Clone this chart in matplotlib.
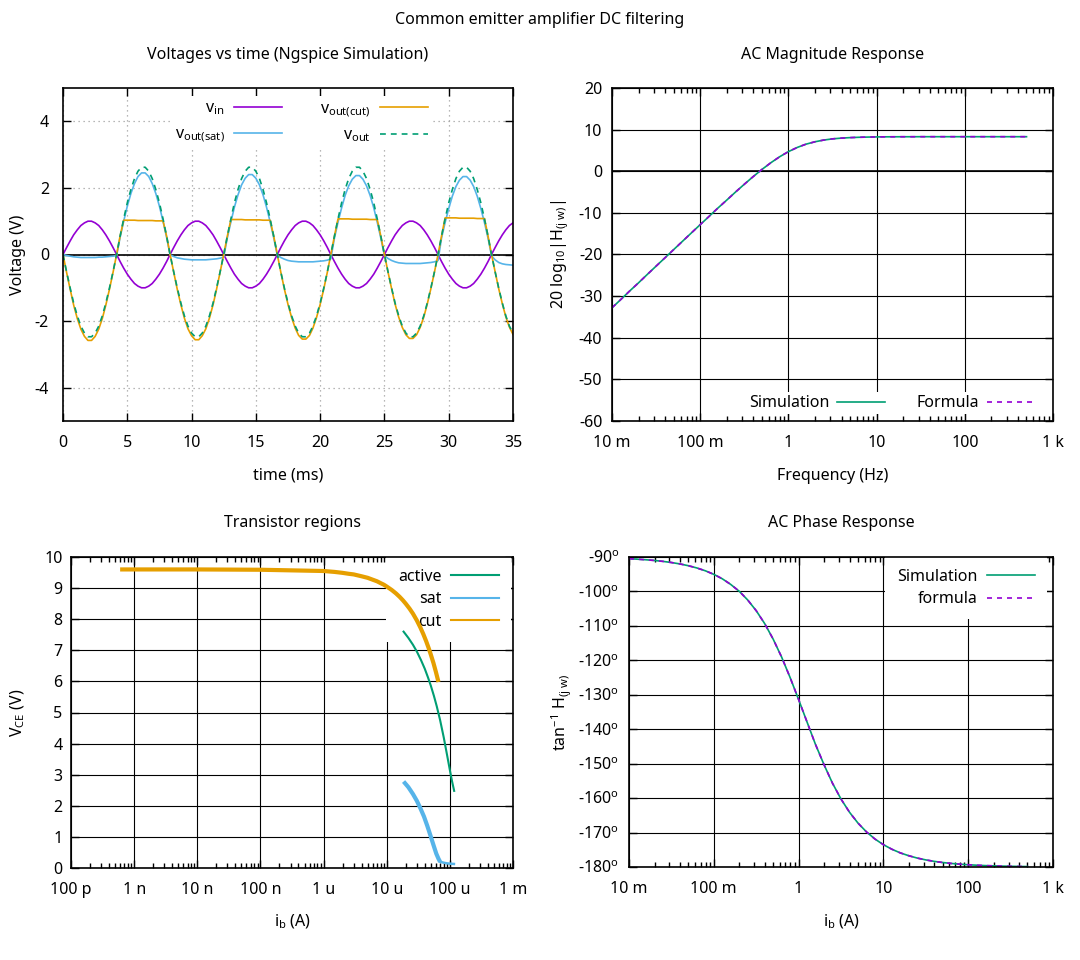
import matplotlib
matplotlib.use('Agg')
import matplotlib.pyplot as plt
from matplotlib.ticker import FixedLocator, LogLocator, NullFormatter
from matplotlib.lines import Line2D

plt.rcParams['font.family'] = ['Noto Sans', 'DejaVu Sans']
plt.rcParams['font.size'] = 11.5
plt.rcParams['axes.unicode_minus'] = False
plt.rcParams['mathtext.fontset'] = 'custom'
plt.rcParams['mathtext.rm'] = 'Noto Sans'
plt.rcParams['mathtext.it'] = 'Noto Sans:italic'
plt.rcParams['mathtext.bf'] = 'Noto Sans:bold'

FS = 11.5

# ---------------- data: transient (ms, V) ----------------
TIME_MS = [
    0, 0.28, 0.56, 0.83, 1.11, 1.39, 1.67, 1.94, 2.22,
    2.5, 2.78, 3.06, 3.33, 3.61, 3.89, 4.17, 4.44, 4.72,
    5.0, 5.28, 5.56, 5.83, 6.11, 6.39, 6.67, 6.94, 7.22,
    7.5, 7.78, 8.06, 8.33, 8.61, 8.89, 9.17, 9.44, 9.72,
    10.0, 10.28, 10.56, 10.83, 11.11, 11.39, 11.67, 11.94, 12.22,
    12.5, 12.78, 13.06, 13.33, 13.61, 13.89, 14.17, 14.44, 14.72,
    15.0, 15.28, 15.56, 15.83, 16.11, 16.39, 16.67, 16.94, 17.22,
    17.5, 17.78, 18.06, 18.33, 18.61, 18.89, 19.17, 19.44, 19.72,
    20.0, 20.28, 20.56, 20.83, 21.11, 21.39, 21.67, 21.94, 22.22,
    22.5, 22.78, 23.06, 23.33, 23.61, 23.89, 24.17, 24.44, 24.72,
    25.0, 25.28, 25.56, 25.83, 26.11, 26.39, 26.67, 26.94, 27.22,
    27.5, 27.78, 28.06, 28.33, 28.61, 28.89, 29.17, 29.44, 29.72,
    30.0, 30.28, 30.56, 30.83, 31.11, 31.39, 31.67, 31.94, 32.22,
    32.5, 32.78, 33.06, 33.33, 33.61, 33.89, 34.17, 34.44, 34.72,
    35.0,
]

V_IN = [
    0, 0.21, 0.41, 0.59, 0.74, 0.87, 0.95, 1.0, 1.0, 0.95, 0.87, 0.74, 0.59, 0.41, 0.21,
    0, -0.21, -0.41, -0.59, -0.74, -0.87, -0.95, -1.0, -1.0, -0.95, -0.87, -0.74, -0.59, -0.41, -0.21,
    0, 0.21, 0.41, 0.59, 0.74, 0.87, 0.95, 1.0, 1.0, 0.95, 0.87, 0.74, 0.59, 0.41, 0.21,
    0, -0.21, -0.41, -0.59, -0.74, -0.87, -0.95, -1.0, -1.0, -0.95, -0.87, -0.74, -0.59, -0.41, -0.21,
    0, 0.21, 0.41, 0.59, 0.74, 0.87, 0.95, 1.0, 1.0, 0.95, 0.87, 0.74, 0.59, 0.41, 0.21,
    0, -0.21, -0.41, -0.59, -0.74, -0.87, -0.95, -1.0, -1.0, -0.95, -0.87, -0.74, -0.59, -0.41, -0.21,
    0, 0.21, 0.41, 0.59, 0.74, 0.87, 0.95, 1.0, 1.0, 0.95, 0.87, 0.74, 0.59, 0.41, 0.21,
    0, -0.21, -0.41, -0.59, -0.74, -0.87, -0.95, -1.0, -1.0, -0.95, -0.87, -0.74, -0.59, -0.41, -0.21,
    0, 0.21, 0.41, 0.59, 0.74, 0.87, 0.95,
]

V_OUT = [
    0, -0.52, -1.01, -1.46, -1.84, -2.15, -2.36, -2.47, -2.47, -2.36, -2.15, -1.84, -1.46, -1.01, -0.52,
    0, 0.55, 1.07, 1.55, 1.95, 2.28, 2.50, 2.62, 2.62, 2.50, 2.28, 1.95, 1.55, 1.07, 0.55,
    0, -0.52, -1.01, -1.46, -1.84, -2.15, -2.36, -2.47, -2.47, -2.36, -2.15, -1.84, -1.46, -1.01, -0.52,
    0, 0.55, 1.07, 1.55, 1.95, 2.28, 2.50, 2.62, 2.62, 2.50, 2.28, 1.95, 1.55, 1.07, 0.55,
    0, -0.52, -1.01, -1.46, -1.84, -2.15, -2.36, -2.47, -2.47, -2.36, -2.15, -1.84, -1.46, -1.01, -0.52,
    0, 0.55, 1.07, 1.55, 1.95, 2.28, 2.50, 2.62, 2.62, 2.50, 2.28, 1.95, 1.55, 1.07, 0.55,
    0, -0.52, -1.01, -1.46, -1.84, -2.15, -2.36, -2.47, -2.47, -2.36, -2.15, -1.84, -1.46, -1.01, -0.52,
    0, 0.55, 1.07, 1.55, 1.95, 2.28, 2.50, 2.62, 2.62, 2.50, 2.28, 1.95, 1.55, 1.07, 0.55,
    0, -0.52, -1.01, -1.46, -1.84, -2.15, -2.36,
]

V_OUT_CUT = [
    0, -0.54, -1.05, -1.52, -1.92, -2.24, -2.46, -2.58, -2.58, -2.46, -2.24, -1.92, -1.52, -1.05, -0.54,
    0, 0.55, 1.03, 1.03, 1.03, 1.03, 1.02, 1.02, 1.02, 1.02, 1.02, 1.01, 1.01, 1.01, 0.55,
    0, -0.53, -1.05, -1.51, -1.91, -2.23, -2.44, -2.56, -2.56, -2.44, -2.23, -1.91, -1.51, -1.05, -0.53,
    0, 0.55, 1.05, 1.05, 1.05, 1.05, 1.04, 1.04, 1.04, 1.04, 1.04, 1.03, 1.03, 1.03, 0.55,
    0, -0.53, -1.04, -1.50, -1.89, -2.21, -2.43, -2.54, -2.54, -2.43, -2.21, -1.89, -1.50, -1.04, -0.53,
    0, 0.55, 1.07, 1.07, 1.07, 1.07, 1.06, 1.06, 1.06, 1.06, 1.06, 1.05, 1.05, 1.05, 0.55,
    0, -0.53, -1.03, -1.49, -1.88, -2.19, -2.41, -2.52, -2.52, -2.41, -2.19, -1.88, -1.49, -1.03, -0.53,
    0, 0.55, 1.10, 1.10, 1.10, 1.10, 1.09, 1.09, 1.09, 1.09, 1.09, 1.08, 1.08, 1.08, 0.55,
    0, -0.52, -1.03, -1.48, -1.87, -2.18, -2.40,
]

V_OUT_SAT = [
    0, -0.03, -0.05, -0.07, -0.08, -0.09, -0.09, -0.09, -0.09, -0.09, -0.08, -0.08, -0.07, -0.06, -0.05,
    -0.03, 0.51, 1.00, 1.45, 1.83, 2.13, 2.34, 2.45, 2.45, 2.34, 2.13, 1.83, 1.45, 1.00, 0.51,
    -0.01, -0.06, -0.10, -0.12, -0.14, -0.15, -0.16, -0.16, -0.16, -0.16, -0.16, -0.15, -0.14, -0.13, -0.11,
    -0.08, 0.50, 0.98, 1.42, 1.79, 2.09, 2.29, 2.40, 2.40, 2.29, 2.09, 1.79, 1.42, 0.98, 0.50,
    -0.02, -0.09, -0.14, -0.18, -0.20, -0.21, -0.22, -0.22, -0.22, -0.22, -0.22, -0.21, -0.20, -0.19, -0.17,
    -0.13, 0.49, 0.97, 1.40, 1.77, 2.06, 2.26, 2.37, 2.37, 2.26, 2.06, 1.77, 1.40, 0.97, 0.49,
    -0.03, -0.12, -0.18, -0.22, -0.25, -0.26, -0.27, -0.27, -0.27, -0.27, -0.27, -0.26, -0.25, -0.24, -0.22,
    -0.18, 0.49, 0.96, 1.38, 1.75, 2.04, 2.23, 2.34, 2.34, 2.23, 2.04, 1.75, 1.38, 0.96, 0.49,
    -0.04, -0.16, -0.24, -0.28, -0.30, -0.31, -0.32,
]

# ---------------- data: AC response ----------------
FREQ_HZ = [
    0.01, 0.0126, 0.0158, 0.02, 0.0251, 0.0316, 0.0398, 0.0501, 0.0631, 0.0794,
    0.1, 0.126, 0.158, 0.2, 0.251, 0.316, 0.398, 0.501, 0.631, 0.794,
    1.0, 1.26, 1.58, 2.0, 2.51, 3.16, 3.98, 5.01, 6.31, 7.94,
    10.0, 12.6, 15.8, 20.0, 25.1, 31.6, 39.8, 50.1, 63.1, 79.4,
    100.0, 126.0, 158.0, 200.0, 251.0, 316.0, 398.0, 501.0,
]

MAG_DB = [
    -32.80, -30.80, -28.80, -26.80, -24.80, -22.80, -20.81, -18.81, -16.81, -14.82,
    -12.83, -10.85, -8.88, -6.93, -5.01, -3.13, -1.30, 0.43, 2.03, 3.47,
    4.71, 5.72, 6.50, 7.08, 7.49, 7.78, 7.96, 8.08, 8.16, 8.21,
    8.25, 8.27, 8.28, 8.29, 8.29, 8.30, 8.30, 8.30, 8.30, 8.30,
    8.30, 8.30, 8.30, 8.30, 8.30, 8.30, 8.30, 8.30,
]

PHASE_DEG = [
    -90.50, -90.64, -90.80, -91.01, -91.27, -91.60, -92.01, -92.53, -93.18, -94.00,
    -95.03, -96.33, -97.95, -99.97, -102.48, -105.57, -109.33, -113.83, -119.07, -124.99,
    -131.38, -137.96, -144.38, -150.37, -155.68, -160.25, -164.09, -167.24, -169.80, -171.87,
    -173.52, -174.85, -175.90, -176.74, -177.41, -177.94, -178.37, -178.70, -178.97, -179.18,
    -179.35, -179.48, -179.59, -179.67, -179.74, -179.79, -179.84, -179.87,
]

# ---------------- data: transistor regions (A, V) ----------------
IB_CUT = [6e-10, 1e-9, 1e-8, 1e-7, 1e-6, 1.5e-6, 2e-6, 2.5e-6, 3e-6, 4e-6, 5e-6, 6e-6, 7e-6, 8e-6,
          9e-6, 1e-5, 1.2e-5, 1.4e-5, 1.6e-5, 1.8e-5, 2e-5, 2.3e-5, 2.6e-5, 3e-5, 3.4e-5, 3.8e-5,
          4.2e-5, 4.6e-5, 5e-5, 5.5e-5, 6e-5, 6.6e-5]
VCE_CUT = [9.60, 9.60, 9.60, 9.59, 9.55, 9.52, 9.49, 9.46, 9.44, 9.38, 9.33, 9.27, 9.22, 9.16,
           9.11, 9.05, 8.94, 8.83, 8.72, 8.61, 8.50, 8.34, 8.18, 7.96, 7.74, 7.52,
           7.30, 7.08, 6.86, 6.59, 6.31, 5.98]

IB_ACTIVE = [1.85e-5, 2.2e-5, 2.6e-5, 3e-5, 3.5e-5, 4e-5, 4.5e-5, 5e-5, 5.6e-5, 6.2e-5, 7e-5, 8e-5,
             9e-5, 1e-4, 1.08e-4, 1.17e-4]
VCE_ACTIVE = [7.60, 7.40, 7.18, 6.96, 6.68, 6.41, 6.13, 5.86, 5.53, 5.20, 4.76, 4.20,
              3.65, 3.15, 2.80, 2.48]

# steep part of the saturation curve, then its low tail
IB_SAT = [1.85e-5, 2.2e-5, 2.6e-5, 3e-5, 3.4e-5, 3.9e-5, 4.4e-5, 4.9e-5, 5.5e-5, 6.1e-5, 6.6e-5, 7e-5]
VCE_SAT = [2.78, 2.60, 2.38, 2.16, 1.93, 1.65, 1.35, 1.06, 0.74, 0.46, 0.30, 0.20]
IB_SAT_TAIL = [7e-5, 8e-5, 9e-5, 1e-4, 1.16e-4]
VCE_SAT_TAIL = [0.20, 0.17, 0.15, 0.14, 0.13]

# ---------------- tick labels ----------------
FREQ_TICKS = [0.01, 0.1, 1, 10, 100, 1000]
FREQ_TICK_LABELS = ['10 m', '100 m', '1', '10', '100', '1 k']
IB_TICKS = [1e-10, 1e-9, 1e-8, 1e-7, 1e-6, 1e-5, 1e-4, 1e-3]
IB_TICK_LABELS = ['100 p', '1 n', '10 n', '100 n', '1 u', '10 u', '100 u', '1 m']
PHASE_TICKS = [-180, -170, -160, -150, -140, -130, -120, -110, -100, -90]
PHASE_TICK_LABELS = [f'{v}' + r'$^{\mathrm{o}}$' for v in PHASE_TICKS]

PURPLE = '#9400d3'
GREEN = '#009e73'
BLUE = '#56b4e9'
ORANGE = '#e69f00'

W, H = 1080, 960
fig = plt.figure(figsize=(W / 100, H / 100), dpi=100)


def add_ax(left, top, right, bottom):
    return fig.add_axes([left / W, 1 - bottom / H, (right - left) / W, (bottom - top) / H])


def style(ax, ypad, xpad=10.0):
    for s in ax.spines.values():
        s.set_linewidth(1.2)
    ax.tick_params(which='both', direction='in', top=True, right=True, width=1.0, labelsize=FS)
    ax.tick_params(which='major', length=6)
    ax.tick_params(which='minor', length=3.5)
    ax.tick_params(axis='x', which='major', pad=xpad)
    ax.tick_params(axis='y', which='major', pad=ypad)


def log_x(ax, ticks, labels):
    ax.set_xscale('log')
    ax.xaxis.set_major_locator(FixedLocator(ticks))
    ax.set_xticklabels(labels)
    ax.xaxis.set_minor_locator(LogLocator(base=10, subs=range(2, 10), numticks=30))
    ax.xaxis.set_minor_formatter(NullFormatter())


def legend_box(leg):
    leg.get_frame().set_facecolor('white')
    leg.get_frame().set_linewidth(0)
    leg.set_zorder(1.8)


fig.text(0.5, 1 - 20 / H, 'Common emitter amplifier DC filtering', ha='center', va='center', fontsize=FS)

# ---------------- top left: transient ----------------
ax1 = add_ax(63, 88, 513, 421)
style(ax1, ypad=10)
ax1.grid(True, color='#a0a0a0', linestyle=(0, (1, 3)), linewidth=0.9)
ax1.axhline(0, color='black', lw=1.2, zorder=1.9)
ax1.plot(TIME_MS, V_IN, color=PURPLE, lw=1.2, label=r'v$_{\mathrm{in}}$')
ax1.plot(TIME_MS, V_OUT_SAT, color=BLUE, lw=1.2, label=r'v$_{\mathrm{out(sat)}}$')
ax1.plot(TIME_MS, V_OUT_CUT, color=ORANGE, lw=1.2, label=r'v$_{\mathrm{out(cut)}}$')
ax1.plot(TIME_MS, V_OUT, color=GREEN, lw=1.2, dashes=(3.5, 3), label=r'v$_{\mathrm{out}}$')
ax1.set_xlim(0, 35)
ax1.set_ylim(-5, 5)
ax1.set_xticks([0, 5, 10, 15, 20, 25, 30, 35])
ax1.set_yticks([-4, -2, 0, 2, 4])
ax1.set_title('Voltages vs time (Ngspice Simulation)', y=1 + 33 / 333, va='center', pad=0, fontsize=FS)
ax1.set_xlabel('time (ms)', va='center')
ax1.xaxis.set_label_coords(0.5, -55 / 333)
ax1.set_ylabel('Voltage (V)', va='center')
ax1.yaxis.set_label_coords(-45 / 450, 0.5)
leg1 = ax1.legend(ncol=2, loc='upper center', bbox_to_anchor=(0.53, 1.0), markerfirst=False,
                  handlelength=3.0, columnspacing=2.4, labelspacing=0.55, borderpad=0.3,
                  handletextpad=0.6, fancybox=False, framealpha=1, fontsize=FS)
legend_box(leg1)

# ---------------- top right: magnitude ----------------
ax2 = add_ax(612, 88, 1053, 421)
style(ax2, ypad=7)
ax2.grid(True, which='major', color='black', lw=0.8)
ax2.axhline(0, color='black', lw=1.2, zorder=1.9)
ax2.plot(FREQ_HZ, MAG_DB, color=GREEN, lw=1.2, label='Simulation')
ax2.plot(FREQ_HZ, MAG_DB, color=PURPLE, lw=1.2, dashes=(3, 3), label='Formula')
log_x(ax2, FREQ_TICKS, FREQ_TICK_LABELS)
ax2.set_xlim(0.01, 1000)
ax2.set_ylim(-60, 20)
ax2.set_yticks(list(range(-60, 21, 10)))
ax2.set_title('AC Magnitude Response', y=1 + 33 / 333, va='center', pad=0, fontsize=FS)
ax2.set_xlabel('Frequency (Hz)', va='center')
ax2.xaxis.set_label_coords(0.5, -55 / 333)
ax2.set_ylabel(r'20 log$_{\mathrm{10}}$|H$_{\mathrm{(j\ w)}}$|', va='center')
ax2.yaxis.set_label_coords(-52 / 441, 0.5)
leg2 = ax2.legend(ncol=2, loc='lower right', bbox_to_anchor=(0.967, 0.02), markerfirst=False,
                  handlelength=3.0, columnspacing=2.0, borderpad=0.2, borderaxespad=0,
                  handletextpad=0.5, fancybox=False, framealpha=1, fontsize=FS)
legend_box(leg2)

# ---------------- bottom left: transistor regions ----------------
ax3 = add_ax(71, 557, 513, 868)
style(ax3, ypad=6)
ax3.grid(True, which='major', color='black', lw=0.8)
ax3.plot(IB_ACTIVE, VCE_ACTIVE, color=GREEN, lw=1.5)
ax3.plot(IB_SAT, VCE_SAT, color=BLUE, lw=3.0, solid_capstyle='butt')
ax3.plot(IB_SAT_TAIL, VCE_SAT_TAIL, color=BLUE, lw=1.8)
ax3.plot(IB_CUT, VCE_CUT, color=ORANGE, lw=3.0, solid_capstyle='butt')
log_x(ax3, IB_TICKS, IB_TICK_LABELS)
ax3.set_xlim(1e-10, 1e-3)
ax3.set_ylim(0, 10)
ax3.set_yticks(list(range(0, 11)))
ax3.set_title('Transistor regions', y=1 + 34 / 311, va='center', pad=0, fontsize=FS)
ax3.set_xlabel(r'i$_{\mathrm{b}}$ (A)', va='center')
ax3.xaxis.set_label_coords(0.5, -54 / 311)
ax3.set_ylabel(r'V$_{\mathrm{CE}}$ (V)', va='center')
ax3.yaxis.set_label_coords(-53 / 442, 0.5)
proxies = [Line2D([], [], color=GREEN, lw=1.5), Line2D([], [], color=BLUE, lw=1.5),
           Line2D([], [], color=ORANGE, lw=1.5)]
leg3 = ax3.legend(proxies, ['active', 'sat', 'cut'], loc='upper right', bbox_to_anchor=(0.995, 1.0),
                  markerfirst=False, handlelength=3.0, labelspacing=0.4, borderpad=0.75,
                  borderaxespad=0, handletextpad=0.6, fancybox=False, framealpha=1, fontsize=FS)
legend_box(leg3)

# ---------------- bottom right: phase ----------------
ax4 = add_ax(629, 557, 1053, 867)
style(ax4, ypad=7)
ax4.grid(True, which='major', color='black', lw=0.8)
ax4.plot(FREQ_HZ, PHASE_DEG, color=GREEN, lw=1.2, label='Simulation')
ax4.plot(FREQ_HZ, PHASE_DEG, color=PURPLE, lw=1.2, dashes=(3, 3), label='formula')
log_x(ax4, FREQ_TICKS, FREQ_TICK_LABELS)
ax4.set_xlim(0.01, 1000)
ax4.set_ylim(-180, -90)
ax4.yaxis.set_major_locator(FixedLocator(PHASE_TICKS))
ax4.set_yticklabels(PHASE_TICK_LABELS)
ax4.set_title('AC Phase Response', y=1 + 34 / 310, va='center', pad=0, fontsize=FS)
ax4.set_xlabel(r'i$_{\mathrm{b}}$ (A)', va='center')
ax4.xaxis.set_label_coords(0.5, -55 / 310)
ax4.set_ylabel(r'tan$^{\mathrm{-1}}$ H$_{\mathrm{(j\ w)}}$', va='center')
ax4.yaxis.set_label_coords(-67 / 424, 0.5)
leg4 = ax4.legend(loc='upper right', bbox_to_anchor=(0.985, 1.0), markerfirst=False,
                  handlelength=3.0, labelspacing=0.4, borderpad=0.75, borderaxespad=0,
                  handletextpad=0.6, fancybox=False, framealpha=1, fontsize=FS)
legend_box(leg4)

fig.savefig('out.png', dpi=100)
